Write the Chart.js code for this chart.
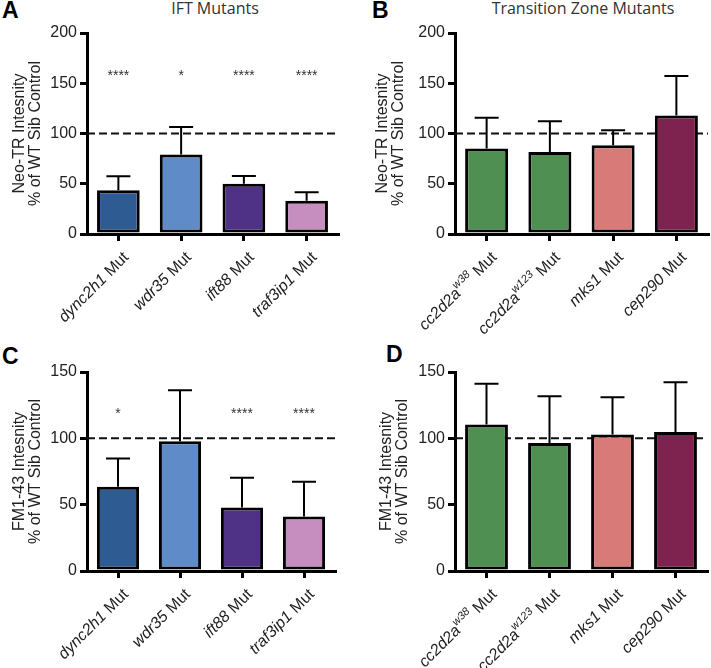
<!DOCTYPE html>
<html>
<head>
<meta charset="utf-8">
<script src="https://cdn.jsdelivr.net/npm/chart.js@4/dist/chart.umd.min.js"></script>
<style>
  body { margin: 0; background: #fff; }
  #wrap { position: relative; width: 711px; height: 668px; }
  canvas { position: absolute; }
  .letter { position: absolute; font: bold 23px "Liberation Sans", Arial, sans-serif; line-height: 1; color: #000; }
  .title { position: absolute; font: 16px "Open Sans", "Liberation Sans", sans-serif; line-height: 1; color: #333; text-align: center; }
</style>
</head>
<body>
<div id="wrap">
  <div class="letter" style="left:2px;top:-1px">A</div>
  <div class="letter" style="left:372px;top:-1px">B</div>
  <div class="letter" style="left:2px;top:345px">C</div>
  <div class="letter" style="left:386px;top:343px">D</div>
  <div class="title" style="left:115px;top:0px;width:200px">IFT Mutants</div>
  <div class="title" style="left:463px;top:0px;width:240px">Transition Zone Mutants</div>
  <canvas id="chartA" width="355" height="334" style="left:0;top:0"></canvas>
  <canvas id="chartB" width="356" height="334" style="left:355px;top:0"></canvas>
  <canvas id="chartC" width="355" height="334" style="left:0;top:334px"></canvas>
  <canvas id="chartD" width="356" height="334" style="left:355px;top:334px"></canvas>
</div>
<script>
// categories
const iftGenes = ["dync2h1", "wdr35", "ift88", "traf3ip1"];
const iftAlleles = ["", "", "", ""];
const tzGenes = ["cc2d2a", "cc2d2a", "mks1", "cep290"];
const tzAlleles = ["w38", "w123", "", ""];

const iftColors = ["#2f5b93", "#5f8bc8", "#4f3286", "#c58ebe"];
const tzColors = ["#4f8f51", "#4f8f51", "#d87b78", "#7e2350"];

// Neo-TR intensity (% of WT sib control), mean and top of error bar
const neoIft = [43.5, 79, 50, 33];
const neoIftErr = [57.4, 106.5, 57.7, 41.5];
const neoIftStars = ["****", "*", "****", "****"];
const neoTz = [85, 81.7, 88.3, 118];
const neoTzErr = [115.7, 112.3, 103.3, 157.3];

// FM1-43 intensity (% of WT sib control)
const fmIft = [63.5, 97.8, 47.9, 41.1];
const fmIftErr = [84.8, 136.2, 70.2, 67.2];
const fmIftStars = ["*", "", "****", "****"];
const fmTz = [110.4, 96.5, 102.9, 104.8];
const fmTzErr = [141.2, 131.7, 130.9, 142.2];

const FONT = "'Liberation Sans', Arial, sans-serif";

const extras = {
  id: "extras",
  beforeDatasetsDraw(chart, args, o) {
    const { ctx, chartArea, scales: { y } } = chart;
    const yy = y.getPixelForValue(100);
    ctx.save();
    ctx.setLineDash([8, 4]);
    ctx.lineWidth = 2;
    ctx.strokeStyle = "#111";
    ctx.beginPath();
    ctx.moveTo(chartArea.left, yy);
    ctx.lineTo(chartArea.right, yy);
    ctx.stroke();
    ctx.restore();
  },
  afterDatasetsDraw(chart, args, o) {
    const { ctx, scales: { y } } = chart;
    const meta = chart.getDatasetMeta(0);
    ctx.save();
    ctx.strokeStyle = "#000";
    ctx.lineWidth = 2;
    meta.data.forEach((bar, i) => {
      const top = y.getPixelForValue(o.err[i]);
      ctx.beginPath();
      ctx.moveTo(bar.x, bar.y);
      ctx.lineTo(bar.x, top);
      ctx.moveTo(bar.x - 12, top);
      ctx.lineTo(bar.x + 12, top);
      ctx.stroke();
      if (o.stars && o.stars[i]) {
        ctx.fillStyle = "#333";
        ctx.font = "14px " + FONT;
        ctx.textAlign = "center";
        ctx.textBaseline = "alphabetic";
        ctx.fillText(o.stars[i], bar.x, y.getPixelForValue(o.starValue));
      }
    });
    ctx.restore();
  },
  afterDraw(chart, args, o) {
    // rotated x labels with italic gene names and superscript alleles
    const { ctx, scales: { x } } = chart;
    ctx.save();
    ctx.fillStyle = "#222";
    ctx.textBaseline = "middle";
    ctx.textAlign = "left";
    o.genes.forEach((g, i) => {
      const fGene = "italic 16px " + FONT;
      const fSup = "italic 11px " + FONT;
      const fMut = "16px " + FONT;
      ctx.font = fGene; const wg = ctx.measureText(g).width;
      ctx.font = fSup; const ws = ctx.measureText(o.alleles[i]).width;
      ctx.font = fMut; const wm = ctx.measureText(" Mut").width;
      const w = wg + ws + wm;
      ctx.save();
      ctx.translate(x.getPixelForTick(i) + 8, x.bottom - x.height + 21);
      ctx.rotate(-Math.PI / 4);
      ctx.font = fGene; ctx.fillText(g, -w, 0);
      ctx.font = fSup; ctx.fillText(o.alleles[i], -w + wg, -6);
      ctx.font = fMut; ctx.fillText(" Mut", -w + wg + ws, 0);
      ctx.restore();
    });
    ctx.restore();
  }
};

function makePanel(id, cfg) {
  const labels = cfg.genes.map((g, i) => g + cfg.alleles[i] + " Mut");
  return new Chart(document.getElementById(id), {
    type: "bar",
    data: {
      labels: labels,
      datasets: [{
        data: cfg.values,
        backgroundColor: cfg.colors,
        borderColor: "#000",
        borderWidth: 3,
        borderSkipped: false,
        categoryPercentage: 1,
        barPercentage: 0.68
      }]
    },
    options: {
      responsive: false,
      animation: false,
      layout: { padding: cfg.padding },
      plugins: {
        legend: { display: false },
        tooltip: { enabled: false },
        extras: {
          err: cfg.err, stars: cfg.stars, starValue: cfg.starValue,
          genes: cfg.genes, alleles: cfg.alleles
        }
      },
      scales: {
        x: {
          ticks: { display: false },
          grid: { drawOnChartArea: false, offset: false, tickLength: 7, lineWidth: 3, color: "#000" },
          border: { color: "#000", width: 3 },
          afterFit(s) { s.height = cfg.xHeight; }
        },
        y: {
          min: 0,
          max: cfg.max,
          ticks: { stepSize: 50, color: "#222", padding: 3, font: { family: FONT, size: 16 } },
          grid: { drawOnChartArea: false, tickLength: 7, lineWidth: 3, color: "#000" },
          border: { color: "#000", width: 3 },
          title: {
            display: true,
            text: cfg.yTitle,
            color: "#222",
            padding: { top: cfg.titleTop, bottom: 0 },
            font: { family: FONT, size: 16, lineHeight: 1.0 }
          },
          afterFit(s) { s.width = cfg.yWidth; }
        }
      }
    },
    plugins: [extras]
  });
}

makePanel("chartA", {
  genes: iftGenes, alleles: iftAlleles, colors: iftColors,
  values: neoIft, err: neoIftErr, stars: neoIftStars, starValue: 153, max: 200,
  yTitle: ["Neo-TR Intesnity", "% of WT Sib Control"],
  padding: { left: 0, right: 17, top: 33, bottom: 0 }, yWidth: 87, xHeight: 100, titleTop: 12
});
makePanel("chartB", {
  genes: tzGenes, alleles: tzAlleles, colors: tzColors,
  values: neoTz, err: neoTzErr, stars: null, starValue: 0, max: 200,
  yTitle: ["Neo-TR Intesnity", "% of WT Sib Control"],
  padding: { left: 0, right: 3, top: 33, bottom: 0 }, yWidth: 100, xHeight: 100, titleTop: 20
});
makePanel("chartC", {
  genes: iftGenes, alleles: iftAlleles, colors: iftColors,
  values: fmIft, err: fmIftErr, stars: fmIftStars, starValue: 115, max: 150,
  yTitle: ["FM1-43 Intesnity", "% of WT Sib Control"],
  padding: { left: 0, right: 20, top: 38, bottom: 0 }, yWidth: 87, xHeight: 97, titleTop: 12
});
makePanel("chartD", {
  genes: tzGenes, alleles: tzAlleles, colors: tzColors,
  values: fmTz, err: fmTzErr, stars: null, starValue: 0, max: 150,
  yTitle: ["FM1-43 Intesnity", "% of WT Sib Control"],
  padding: { left: 0, right: 4, top: 38, bottom: 0 }, yWidth: 100, xHeight: 97, titleTop: 24
});
</script>
</body>
</html>
